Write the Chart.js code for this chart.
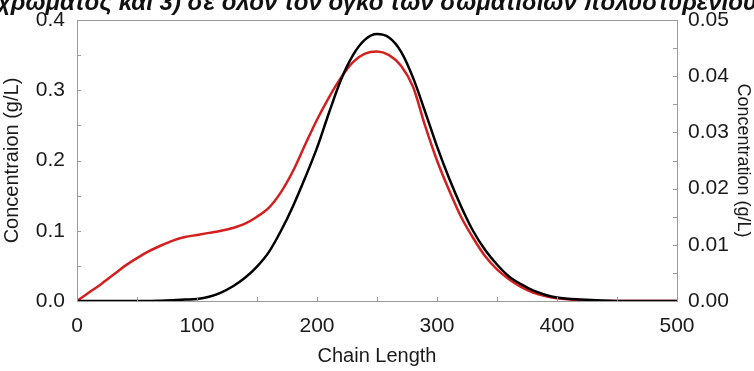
<!DOCTYPE html>
<html>
<head>
<meta charset="utf-8">
<script src="https://cdn.jsdelivr.net/npm/chart.js@4"></script>
<style>
  html, body { margin: 0; padding: 0; background: #fff; }
  canvas { display: block; }
</style>
</head>
<body>
<canvas id="chart" width="754" height="371"></canvas>
<script>
// ----------------- DATA -----------------
const chainLength = [0, 10, 20, 30, 40, 50, 60, 70, 80, 90, 100, 110, 120, 130, 140, 150, 160, 170, 180, 190,
    200, 210, 220, 230, 240, 250, 260, 270, 280, 290, 300, 310, 320, 330, 340, 350, 360, 370, 380, 390,
    400, 420, 450, 500];

// black curve
const concBlack = [0, 0, 0, 0, 0, 0, 0, 0.0005, 0.001, 0.002, 0.003, 0.006, 0.012, 0.021, 0.033, 0.049, 0.07, 0.1, 0.135, 0.175,
    0.218, 0.268, 0.315, 0.35, 0.372, 0.38, 0.375, 0.355, 0.318, 0.27, 0.22, 0.175, 0.135, 0.1, 0.073, 0.052, 0.035, 0.024, 0.015, 0.009,
    0.005, 0.002, 0, 0];

// red curve
const concRed = [0, 0.012, 0.024, 0.037, 0.05, 0.061, 0.071, 0.079, 0.086, 0.091, 0.094, 0.097, 0.1, 0.104, 0.11, 0.12, 0.133, 0.155, 0.185, 0.222,
    0.258, 0.29, 0.318, 0.34, 0.352, 0.355, 0.35, 0.335, 0.305, 0.25, 0.2, 0.158, 0.12, 0.09, 0.064, 0.045, 0.031, 0.02, 0.012, 0.007,
    0.004, 0.001, 0, 0];

const titleText = "χρώματος και 3) σε όλον τον όγκο των σωματιδίων πολυστυρενίου";
const xTitle = "Chain Length";
const yLeftTitle = "Concentraion (g/L)";
const yRightTitle = "Concentration (g/L)";

// ----------------- HELPERS -----------------
const FONT = "'Liberation Sans', Arial, sans-serif";
const toPoints = (ys) => chainLength.map((x, i) => ({ x: x, y: ys[i] }));

// frame + small inward tick marks
const framePlugin = {
    id: "frame",
    afterDatasetsDraw(chart) {
        const { ctx, chartArea: a, scales } = chart;
        ctx.save();
        ctx.strokeStyle = "#9a9a9a";
        ctx.lineWidth = 1;

        ctx.beginPath();
        scales.x.ticks.forEach(t => {
            const px = Math.round(scales.x.getPixelForValue(t.value)) + 0.5;
            ctx.moveTo(px, a.bottom);
            ctx.lineTo(px, a.bottom - 4);
        });
        scales.y.ticks.forEach(t => {
            const py = Math.round(scales.y.getPixelForValue(t.value)) + 0.5;
            ctx.moveTo(a.left, py);
            ctx.lineTo(a.left + 4, py);
        });
        scales.y1.ticks.forEach(t => {
            const py = Math.round(scales.y1.getPixelForValue(t.value)) + 0.5;
            ctx.moveTo(a.right, py);
            ctx.lineTo(a.right - 4, py);
        });
        ctx.stroke();

        ctx.strokeRect(Math.round(a.left) + 0.5, Math.round(a.top) + 0.5,
            Math.round(a.right - a.left), Math.round(a.bottom - a.top));
        ctx.restore();
    }
};

// clipped title text at the very top
const topTextPlugin = {
    id: "topText",
    beforeDraw(chart) {
        const ctx = chart.ctx;
        ctx.save();
        ctx.fillStyle = "#111";
        ctx.font = "italic bold 24px " + FONT;
        ctx.textBaseline = "alphabetic";
        ctx.textAlign = "left";
        ctx.fillText(titleText, -3, 10);
        ctx.restore();
    }
};

// ----------------- CHART SETUP -----------------
const ctx = document.getElementById("chart").getContext("2d");

const chart = new Chart(ctx, {
    type: "line",
    data: {
        datasets: [
            {
                label: "black",
                data: toPoints(concBlack),
                borderColor: "#000000",
                borderWidth: 2.5,
                pointRadius: 0,
                cubicInterpolationMode: "monotone",
                yAxisID: "y"
            },
            {
                label: "red",
                data: toPoints(concRed),
                borderColor: "#d41f1f",
                borderWidth: 2.5,
                pointRadius: 0,
                cubicInterpolationMode: "monotone",
                yAxisID: "y"
            }
        ]
    },
    options: {
        responsive: false,
        animation: false,
        devicePixelRatio: 1,
        layout: { padding: { top: 20, left: 0, right: 0, bottom: 0 } },
        plugins: {
            legend: { display: false },
            tooltip: { enabled: false }
        },
        scales: {
            x: {
                type: "linear",
                min: 0,
                max: 500,
                grid: { display: false },
                border: { display: false },
                ticks: {
                    stepSize: 50,
                    autoSkip: false,
                    maxRotation: 0,
                    padding: 5,
                    color: "#1a1a1a",
                    font: { family: FONT, size: 21 },
                    callback: (v) => (v % 100 === 0 ? v : "")
                },
                title: {
                    display: true,
                    text: xTitle,
                    color: "#1a1a1a",
                    font: { family: FONT, size: 20 },
                    padding: { top: 0, bottom: 3 }
                },
                afterFit: (s) => { s.height = 70; }
            },
            y: {
                type: "linear",
                position: "left",
                min: 0,
                max: 0.4,
                grid: { display: false },
                border: { display: false },
                ticks: {
                    stepSize: 0.05,
                    autoSkip: false,
                    padding: 4,
                    color: "#1a1a1a",
                    font: { family: FONT, size: 21 },
                    callback: (v) => (Math.round(v * 100) % 10 === 0 ? v.toFixed(1) : "")
                },
                title: {
                    display: true,
                    text: yLeftTitle,
                    color: "#1a1a1a",
                    font: { family: FONT, size: 20 },
                    padding: { top: 0, bottom: 0 }
                },
                afterFit: (s) => { s.width = 77; }
            },
            y1: {
                type: "linear",
                position: "right",
                min: 0,
                max: 0.05,
                grid: { display: false },
                border: { display: false },
                ticks: {
                    stepSize: 0.005,
                    autoSkip: false,
                    padding: 3,
                    color: "#1a1a1a",
                    font: { family: FONT, size: 21 },
                    callback: (v) => (Math.round(v * 1000) % 10 === 0 ? v.toFixed(2) : "")
                },
                title: {
                    display: true,
                    text: yRightTitle,
                    color: "#1a1a1a",
                    font: { family: FONT, size: 18 },
                    padding: { top: 0, bottom: 0 }
                },
                afterFit: (s) => { s.width = 77; }
            }
        }
    },
    plugins: [topTextPlugin, framePlugin]
});
</script>
</body>
</html>
